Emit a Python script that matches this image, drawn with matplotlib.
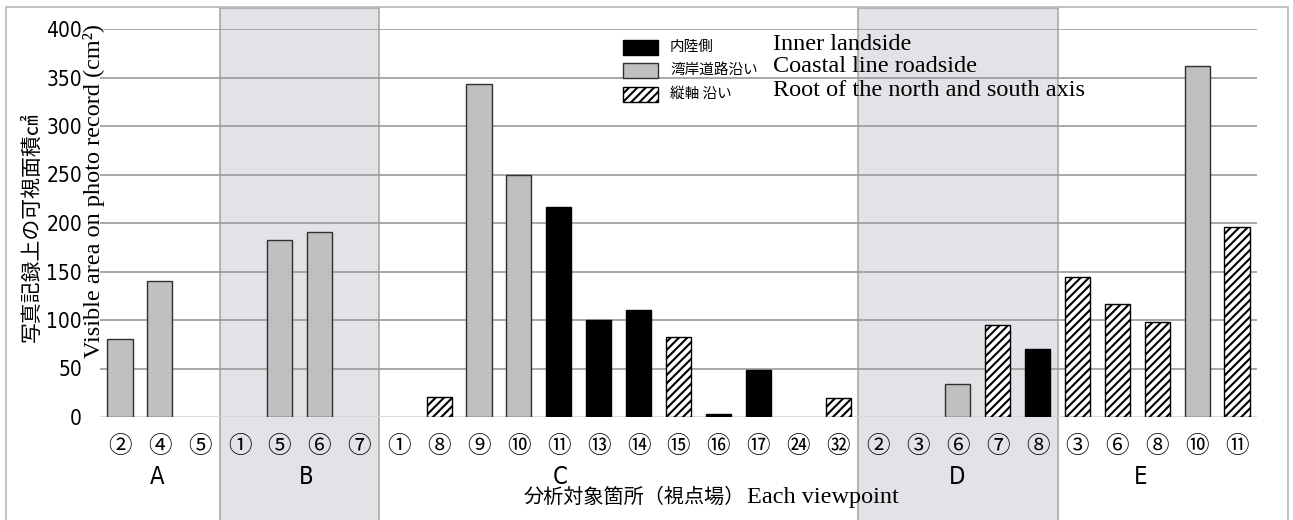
import matplotlib
matplotlib.use("Agg")
import matplotlib.pyplot as plt
from matplotlib.patches import Rectangle
from matplotlib.transforms import blended_transform_factory

# viewpoint groups and their circled point numbers
groups = ['A', 'B', 'C', 'D', 'E']
points = [
    ['②', '④', '⑤'],
    ['①', '⑤', '⑥', '⑦'],
    ['①', '⑧', '⑨', '⑩', '⑪', '⑬', '⑭', '⑮', '⑯', '⑰', '㉔', '㉜'],
    ['②', '③', '⑥', '⑦', '⑧'],
    ['③', '⑥', '⑧', '⑩', '⑪'],
]
# visible area on photo record (cm2)
values = [
    [80, 140, 0],
    [0, 182, 191, 0],
    [0, 21, 343, 250, 216, 100, 110, 82, 3, 48, 0, 20],
    [0, 0, 34, 95, 70],
    [144, 116, 98, 362, 196],
]
# 'in' = inner landside, 'co' = coastal roadside, 'ax' = north-south axis
sides = [
    ['co', 'co', ''],
    ['', 'co', 'co', ''],
    ['', 'ax', 'co', 'co', 'in', 'in', 'in', 'ax', 'in', 'in', '', 'ax'],
    ['', '', 'co', 'ax', 'in'],
    ['ax', 'ax', 'ax', 'co', 'ax'],
]
shaded_groups = ['B', 'D']
group_label_pos = [0.93, 4.66, 11.03, 20.98, 25.59]

legend_ja = ['内陸側', '湾岸道路沿い', '縦軸 沿い']
legend_en = ['Inner landside', 'Coastal line roadside', 'Root of the north and south axis']
legend_keys = ['in', 'co', 'ax']

styles = {
    'in': dict(facecolor='black', edgecolor='black', hatch=None),
    'co': dict(facecolor='#c0c0c0', edgecolor='#303030', hatch=None),
    'ax': dict(facecolor='white', edgecolor='black', hatch='////'),
}

JA = ['Noto Sans CJK JP', 'DejaVu Sans']
NARROW = ['DejaVu Sans']
SERIF = ['Liberation Serif', 'DejaVu Serif']

plt.rcParams['hatch.linewidth'] = 1.5

W, H = 1293, 520
fig = plt.figure(figsize=(W / 100, H / 100), dpi=100)
fig.patch.set_facecolor('white')
ax = fig.add_axes([100 / W, 1 - 417 / H, 1157 / W, 388 / H])
ax.patch.set_visible(False)

# flatten
xlabels, vals, kinds, starts = [], [], [], []
for g, pts, vs, ss in zip(groups, points, values, sides):
    starts.append(len(xlabels))
    xlabels += pts
    vals += vs
    kinds += ss
n = len(xlabels)
xs = list(range(n))

# outer frame
fig.add_artist(Rectangle((6 / W, -0.05), (1288 - 6) / W, 1.05 - 7 / H,
                         transform=fig.transFigure, fill=False,
                         edgecolor='#b8b8b8', lw=1.2))

# shaded group bands (span beyond the axes to the figure bottom)
trans = blended_transform_factory(ax.transData, fig.transFigure)
for g, s, pts in zip(groups, starts, points):
    if g in shaded_groups:
        ax.add_patch(Rectangle((s - 0.5, -0.05), len(pts), 1.05 - 8 / H,
                               transform=trans, facecolor='#e2e2e7',
                               edgecolor='#a8a8a8', lw=1.2, zorder=0.2,
                               clip_on=False))

yticks = list(range(0, 401, 50))
for y in yticks[1:]:
    ax.axhline(y, color='#9a9a9a', lw=1.2, zorder=1)
ax.axhline(0, color='#d6d6d6', lw=2, zorder=1)

for x, v, k in zip(xs, vals, kinds):
    if not k:
        continue
    st = styles[k]
    ax.bar(x, v, width=0.63, color=st['facecolor'], edgecolor=st['edgecolor'],
           hatch=st['hatch'], lw=1, zorder=2)

ax.set_xlim(-0.5, n - 0.5)
ax.set_ylim(0, 400)
for sp in ax.spines.values():
    sp.set_visible(False)

ax.set_yticks(yticks)
ax.set_yticklabels([str(y) for y in yticks], family=NARROW, fontsize=15,
                   fontstretch='condensed')
ax.set_xticks(xs)
ax.set_xticklabels(xlabels, family=JA, fontsize=17)
ax.tick_params(axis='y', length=0, pad=13)
ax.tick_params(axis='x', length=0, pad=13)

# group labels
for g, gx in zip(groups, group_label_pos):
    ax.text(gx, 1 - 477 / H, g, transform=trans, ha='center', va='center',
            family=NARROW, fontstretch='condensed', fontsize=17)

# x axis title
fig.text(745 / W, 1 - 497 / H, '分析対象箇所（視点場）', ha='right', va='center',
         family=JA, fontsize=14.5)
fig.text(747 / W, 1 - 497 / H, 'Each viewpoint', ha='left', va='center',
         family=SERIF, fontsize=17.5)

# y axis titles
fig.text(32 / W, 1 - 227 / H, '写真記録上の可視面積㎠', rotation=90,
         ha='center', va='center', family=JA, fontsize=15)
fig.text(100 / W, 1 - 191 / H, 'Visible area on photo record (cm²)',
         rotation=90, rotation_mode='anchor', ha='center', va='baseline',
         family=SERIF, fontsize=17.5)

# legend
rows_y = [47, 70, 94]
for k, ja, en, ry in zip(legend_keys, legend_ja, legend_en, rows_y):
    st = styles[k]
    fig.add_artist(Rectangle((623 / W, 1 - (ry + 7.5) / H), 35 / W, 15 / H,
                             transform=fig.transFigure,
                             facecolor=st['facecolor'], edgecolor=st['edgecolor'],
                             hatch=st['hatch'], lw=1, zorder=5))
    fig.text(670 / W, 1 - ry / H, ja, ha='left', va='center', family=JA,
             fontsize=10.5, zorder=5)
    fig.text(773 / W, 1 - (ry - 3) / H, en, ha='left', va='center',
             family=SERIF, fontsize=17.5, zorder=5)

fig.savefig('out.png', dpi=100, facecolor='white')
